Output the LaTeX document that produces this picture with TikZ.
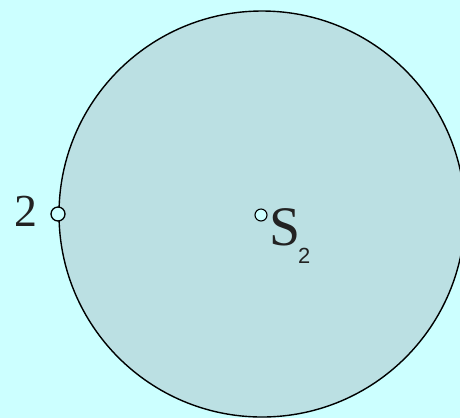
\documentclass[tikz,border=0pt]{standalone}
\usepackage{fontspec}
\setmainfont{Liberation Serif}
\newfontfamily\labsans{Liberation Sans}
\definecolor{bgcyan}{RGB}{204,255,255}
\definecolor{discfill}{RGB}{187,224,227}
\definecolor{inkgrey}{RGB}{34,34,34}
\begin{document}
\begin{tikzpicture}[x=1bp,y=-1bp,
  disc/.style={draw=black,line width=1.4bp,fill=discfill},
  pointmark/.style={circle,draw=black,line width=1.3bp,fill=bgcyan,inner sep=0pt},
  lab/.style={text=inkgrey,inner sep=0pt}]
\useasboundingbox[fill=bgcyan] (0,0) rectangle (460,418);
\begin{scope}
\clip (0,0) rectangle (460,418);
\node[disc,circle,minimum size=406bp,inner sep=0pt] (S) at (262,214) {};
\end{scope}
\node[pointmark,minimum size=14bp] (p2) at (58,214) {};
\node[pointmark,minimum size=12bp,line width=1.1bp] (c) at (261,215) {};
\node[lab,anchor=east,font=\fontsize{46}{46}\selectfont] (l2) at (38,211) {2};
\node[lab,anchor=base west,font=\fontsize{56}{56}\selectfont] (ls) at (269,245) {S};
\node[lab,anchor=base west,font=\labsans\fontsize{22}{22}\selectfont] (ls2) at (298,263) {2};
\end{tikzpicture}
\end{document}
